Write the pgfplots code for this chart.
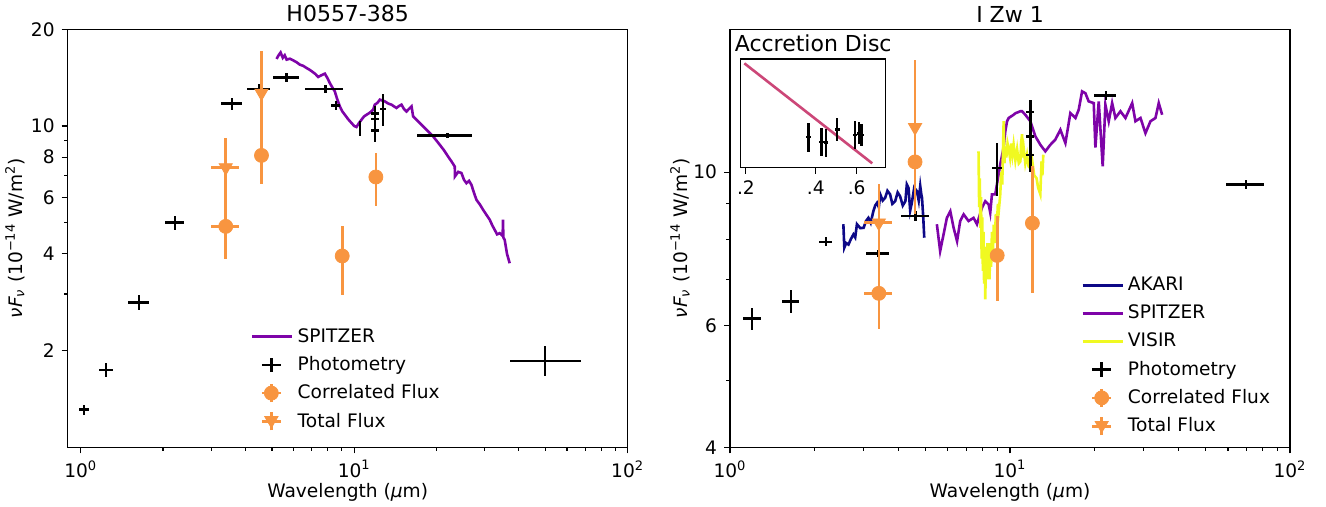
\documentclass[border=0pt]{standalone}
\usepackage{fontspec}
\setmainfont{DejaVu Sans}
\usepackage{pgfplots}
\pgfplotsset{compat=1.18}
\definecolor{cakari}{HTML}{0D0887}
\definecolor{cspitzer}{HTML}{7E03A8}
\definecolor{cvisir}{HTML}{F0F921}
\definecolor{corange}{HTML}{F89540}
\definecolor{cdisc}{HTML}{CC4778}

\newcommand{\fsz}{\fontsize{9.3}{11}\selectfont}
\newcommand{\tsz}{\fontsize{11}{13}\selectfont}
\newcommand{\ylab}{\textit{νF}\textsubscript{\textit{ν}} (10\textsuperscript{−14} W/m\textsuperscript{2})}
\pgfplotsset{
  every axis title shift=0pt,
  myphot/.style={black, only marks, mark=text, text mark={},
    error bars/x dir=both, error bars/x explicit,
    error bars/y dir=both, error bars/y explicit,
    error bars/error mark=none,
    error bars/error bar style={line width=1.2pt}},
  mycorr/.style={corange, only marks, mark=*, mark size=3.5pt,
    error bars/x dir=both, error bars/x explicit,
    error bars/y dir=both, error bars/y explicit,
    error bars/error mark=none,
    error bars/error bar style={line width=1.3pt}},
  mytot/.style={corange, only marks, mark=triangle*, mark size=3.8pt,
    mark options={rotate=180},
    error bars/x dir=both, error bars/x explicit,
    error bars/y dir=both, error bars/y explicit,
    error bars/error mark=none,
    error bars/error bar style={line width=1.3pt}},
  mylinelegend/.style={legend image code/.code={\draw[##1] (0pt,0pt) -- (20pt,0pt);}},
  myphotlegend/.style={legend image code/.code={
    \draw[black, line width=1.2pt] (9.5pt,-3.6pt) -- (9.5pt,3.6pt) (4.8pt,0pt) -- (14.2pt,0pt);}},
  mycorrlegend/.style={legend image code/.code={
    \draw[corange, line width=1.3pt] (9.5pt,-4.5pt) -- (9.5pt,4.5pt) (4.8pt,0pt) -- (14.2pt,0pt);
    \fill[corange] (9.5pt,0pt) circle (3.5pt);}},
  mytotlegend/.style={legend image code/.code={
    \draw[corange, line width=1.3pt] (9.5pt,-4.5pt) -- (9.5pt,4.5pt) (4.8pt,0pt) -- (14.2pt,0pt);
    \fill[corange] (9.5pt,-3.2pt) -- (12.8pt,2.4pt) -- (6.2pt,2.4pt) -- cycle;}},
}

\begin{document}
\begin{tikzpicture}
\path[use as bounding box] (-33.85pt,-29.85pt) rectangle (629.15pt,223.65pt);

% ---------------- left panel: H0557-385
\begin{axis}[
  at={(0pt,0pt)}, anchor=south west,
  scale only axis, width=280pt, height=209pt,
  xmode=log, ymode=log,
  xmin=0.896, xmax=100, ymin=1.0, ymax=20,
  xtick={1,10,100},
  xticklabels={10\textsuperscript{0},10\textsuperscript{1},10\textsuperscript{2}},
  minor xtick={2,3,4,5,6,7,8,9,20,30,40,50,60,70,80,90},
  ytick={2,4,6,8,10,20}, yticklabels={2,4,6,8,10,20},
  minor ytick={3,5,7,9},
  tick align=outside, tick pos=left,
  major tick length=3pt, minor tick length=1.8pt,
  every tick/.append style={black, line width=0.6pt},
  axis line style={line width=0.7pt},
  tick label style={font=\fsz}, label style={font=\fsz},
  title={H0557-385}, title style={font=\tsz},
  xlabel={Wavelength (\textit{μ}m)}, ylabel={\ylab},
  xlabel style={at={(axis description cs:0.5,-0.108)}, anchor=center},
  ylabel style={at={(axis description cs:-0.094,0.5)}, anchor=center},
  legend style={draw=none, fill=none, font=\fsz, row sep=1.6pt,
    at={(0.316,0.305)}, anchor=north west},
  legend cell align=left,
]
\addplot[cspitzer, line width=1.3pt, mylinelegend] coordinates {
(5.20,16.17)(5.29,16.6)(5.38,16.94)(5.48,16.3)(5.57,16.6)(5.66,16.09)(5.82,16.2)(5.98,16.01)
(6.15,15.8)(6.33,15.52)(6.50,15.4)(6.69,15.16)(6.88,14.95)(7.08,14.69)(7.22,14.5)(7.38,14.21)
(7.6,14.4)(7.81,14.55)(7.98,14.1)(8.14,13.61)(8.31,13.2)(8.49,12.82)(8.67,12.1)(8.86,11.51)
(9.05,11.1)(9.24,10.84)(9.5,10.5)(9.77,10.22)(10.0,10.0)(10.19,9.93)(10.4,10.2)(10.63,10.46)
(10.85,10.7)(11.09,10.84)(11.4,11.0)(11.73,11.24)(11.89,11.65)(12.15,11.8)(12.41,12.08)
(12.68,12.0)(12.94,11.93)(13.3,11.75)(13.69,11.65)(14.0,11.5)(14.27,11.38)(14.6,11.55)
(14.89,11.65)(15.2,11.3)(15.53,11.10)(15.85,11.3)(16.2,11.51)(16.42,10.71)(16.9,10.45)
(17.37,10.22)(17.9,9.95)(18.37,9.74)(18.9,9.5)(19.43,9.28)(20.0,9.0)(20.55,8.74)(21.3,8.4)
(22.03,8.04)(22.7,7.75)(23.31,7.48)(23.35,6.97)(24.0,7.2)(24.66,7.14)(25.2,6.8)(25.72,6.64)
(26.3,6.75)(26.83,6.56)(27.4,6.2)(27.99,5.89)(28.8,5.7)(29.58,5.49)(30.4,5.3)(31.29,5.11)
(32.0,4.9)(32.64,4.75)(33.3,4.6)(34.04,4.64)(34.9,4.55)(34.99,5.11)(35.1,4.5)(35.5,4.42)
(36.2,4.0)(37.03,3.74)
};
\addlegendentry{SPITZER}
\addplot[myphot, myphotlegend] coordinates {
(1.03,1.31) +- (0.045,0.047)
(1.24,1.74) +- (0.075,0.09)
(1.63,2.82) +- (0.145,0.15)
(2.21,5.01) +- (0.17,0.25)
(3.58,11.74) +- (0.32,0.5)
(4.48,13.04) +- (0.43,0.45)
(5.66,14.17) +- (0.62,0.45)
(7.86,13.04) +- (1.25,0.38)
(8.57,11.59) +- (0.33,0.37)
(10.48,9.81) +- (0.09,0.53)
(11.89,9.69) +- (0.4,0.8)
(11.89,10.5) +- (0.4,1.0)
(11.89,10.95) +- (0.4,0.3)
(12.76,11.3) +- (0.3,1.3)
(21.9,9.35) +- (5.0,0.15)
(49.9,1.86) += (17.5,0.2) -= (12.8,0.19)
};
\addlegendentry{Photometry}
\addplot[mycorr, mycorrlegend] coordinates {
(3.39,4.87) +- (0.4,1.02)
(4.58,8.1) +- (0,1.5)
(9.04,3.94) +- (0,0.96)
(12.0,6.94) +- (0,1.3)
};
\addlegendentry{Correlated Flux}
\addplot[mytot, mytotlegend] coordinates {
(3.39,7.43) +- (0.4,1.74)
(4.58,12.67) +- (0,4.4)
};
\addlegendentry{Total Flux}
\end{axis}

% ---------------- right panel: I Zw 1
\begin{axis}[
  at={(331.15pt,0pt)}, anchor=south west,
  scale only axis, width=280pt, height=209pt,
  xmode=log, ymode=log,
  xmin=1, xmax=100, ymin=4, ymax=16.1,
  xtick={1,10,100},
  xticklabels={10\textsuperscript{0},10\textsuperscript{1},10\textsuperscript{2}},
  minor xtick={2,3,4,5,6,7,8,9,20,30,40,50,60,70,80,90},
  ytick={4,6,10}, yticklabels={4,6,10},
  minor ytick={5,7,8,9},
  tick align=outside, tick pos=left,
  major tick length=3pt, minor tick length=1.8pt,
  every tick/.append style={black, line width=0.6pt},
  axis line style={line width=0.7pt},
  tick label style={font=\fsz}, label style={font=\fsz},
  title={I Zw 1}, title style={font=\tsz},
  xlabel={Wavelength (\textit{μ}m)}, ylabel={\ylab},
  xlabel style={at={(axis description cs:0.5,-0.108)}, anchor=center},
  ylabel style={at={(axis description cs:-0.089,0.5)}, anchor=center},
  legend style={draw=none, fill=none, font=\fsz, row sep=1.6pt,
    at={(0.616,0.427)}, anchor=north west},
  legend cell align=left,
]
\addplot[cakari, line width=1.3pt, mylinelegend] coordinates {
(2.54,8.41)(2.56,7.78)(2.60,7.9)(2.65,7.86)(2.70,8.0)(2.76,8.13)(2.80,8.05)(2.84,8.41)
(2.92,8.3)(3.00,8.31)(3.06,8.5)(3.12,8.59)(3.18,8.45)(3.25,8.78)(3.30,8.95)(3.35,9.03)
(3.40,8.9)(3.44,9.29)(3.51,9.1)(3.58,9.18)(3.65,9.4)(3.73,9.29)(3.80,9.0)(3.89,9.08)
(3.97,9.35)(4.05,9.23)(4.14,8.95)(4.23,9.08)(4.28,9.6)(4.34,9.49)(4.40,8.8)(4.46,9.03)
(4.55,9.5)(4.65,9.39)(4.72,9.1)(4.78,9.55)(4.82,9.3)(4.85,9.18)(4.90,8.6)(4.94,8.04)
};
\addlegendentry{AKARI}
\addplot[cspitzer, line width=1.3pt, mylinelegend] coordinates {
(5.48,8.41)(5.63,7.69)(5.79,8.13)(5.95,8.59)(6.12,8.78)(6.29,8.31)(6.47,7.95)(6.64,8.50)
(6.83,8.69)(7.11,8.50)(7.41,8.59)(7.62,8.41)(7.94,8.88)(8.16,9.08)(8.39,8.98)(8.50,8.74)
(8.62,9.29)(8.86,9.29)(9.23,10.27)(9.49,10.86)(9.62,11.46)(9.76,11.85)(9.89,11.98)
(10.30,12.11)(10.45,12.17)(10.89,12.25)(11.04,12.25)(11.34,12.11)(11.82,11.85)(12.32,11.27)
(12.83,10.96)(13.37,10.72)(13.94,10.96)(14.52,11.15)(15.13,11.52)(15.77,11.02)(16.43,12.18)
(17.13,11.98)(17.60,12.32)(18.09,13.09)(18.59,13.01)(19.10,12.66)(19.91,12.59)(20.18,10.86)
(20.74,12.66)(21.43,10.2)(21.91,12.52)(22.52,11.85)(23.16,12.59)(23.79,11.98)(24.80,12.25)
(25.84,11.98)(27.31,12.59)(28.05,11.85)(29.24,11.98)(30.46,11.39)(31.74,11.85)(33.07,11.98)
(33.98,12.59)(34.94,12.11)
};
\addlegendentry{SPITZER}
\addplot[cvisir, line width=1.3pt, mylinelegend] coordinates {
(7.72,10.72)(7.76,8.9)(7.80,9.8)(7.84,8.31)(7.88,9.2)(7.92,7.5)(7.96,8.6)(8.00,7.2)
(8.04,8.2)(8.08,6.9)(8.12,7.8)(8.16,6.55)(8.20,7.5)(8.25,7.0)(8.30,7.9)(8.35,7.05)
(8.40,7.8)(8.45,7.0)(8.50,7.9)(8.56,7.3)(8.62,8.2)(8.68,7.6)(8.75,8.4)(8.82,7.9)
(8.90,8.7)(8.97,8.3)(9.05,9.0)(9.12,8.8)(9.23,9.29)(9.30,10.0)(9.38,9.6)(9.45,11.0)
(9.49,11.85)(9.55,10.3)(9.62,10.9)(9.70,10.5)(9.80,11.0)(9.89,10.8)(10.0,10.5)(10.1,11.0)
(10.2,10.6)(10.3,10.96)(10.45,10.4)(10.6,10.8)(10.75,10.3)(10.89,10.37)(10.95,11.0)
(11.04,11.35)(11.1,10.5)(11.2,10.8)(11.34,10.3)(11.5,10.6)(11.65,10.2)(11.82,10.14)
(12.0,10.4)(12.2,9.9)(12.44,9.8)(12.6,9.5)(12.83,9.29)(12.96,10.37)(13.05,9.9)(13.15,10.6)
};
\addlegendentry{VISIR}
\addplot[myphot, myphotlegend] coordinates {
(1.20,6.14) +- (0.085,0.23)
(1.65,6.50) +- (0.12,0.25)
(2.20,7.93) +- (0.12,0.12)
(3.38,7.63) +- (0.32,0.1)
(4.60,8.64) +- (0.53,0.15)
(8.99,10.14) +- (0.35,0.9)
(11.82,12.22) +- (0.4,0.5)
(11.82,11.27) +- (0.4,0.9)
(11.82,10.6) +- (0.4,0.6)
(22.0,12.91) +- (2.0,0.2)
(69.8,9.60) +- (10.7,0.13)
};
\addlegendentry{Photometry}
\addplot[mycorr, mycorrlegend] coordinates {
(3.40,6.68) +- (0.39,0.75)
(4.58,10.35) +- (0,1.5)
(9.0,7.58) +- (0,1.07)
(12.02,8.44) +- (0,1.76)
};
\addlegendentry{Correlated Flux}
\addplot[mytot, mytotlegend] coordinates {
(3.40,8.45) +- (0.39,1.15)
(4.58,11.61) +- (0,2.9)
};
\addlegendentry{Total Flux}
\end{axis}

% ---------------- inset: accretion disc
\begin{axis}[
  at={(336.5pt,139.8pt)}, anchor=south west,
  scale only axis, width=72.5pt, height=54.35pt,
  xmode=log, xmin=0.19, xmax=0.80, ymin=0, ymax=1,
  xtick={0.2,0.4,0.6}, xticklabels={.2,.4,.6},
  ytick=\empty, minor xtick={},
  tick align=outside, xtick pos=bottom,
  major tick length=3pt,
  every tick/.append style={black, line width=0.6pt},
  axis line style={line width=0.7pt},
  axis background/.style={fill=white},
  tick label style={font=\fsz},
  title={Accretion Disc}, title style={font=\tsz},
]
\addplot[cdisc, line width=1.3pt] coordinates {(0.197,0.96)(0.70,0.04)};
\addplot[myphot] coordinates {
(0.372,0.28) +- (0.01,0.135)
(0.424,0.239) +- (0.01,0.13)
(0.443,0.23) +- (0.01,0.13)
(0.495,0.353) +- (0.012,0.107)
(0.59,0.30) +- (0.012,0.13)
(0.615,0.316) +- (0.012,0.1)
(0.63,0.30) +- (0.012,0.1)
};
\end{axis}
\end{tikzpicture}
\end{document}
